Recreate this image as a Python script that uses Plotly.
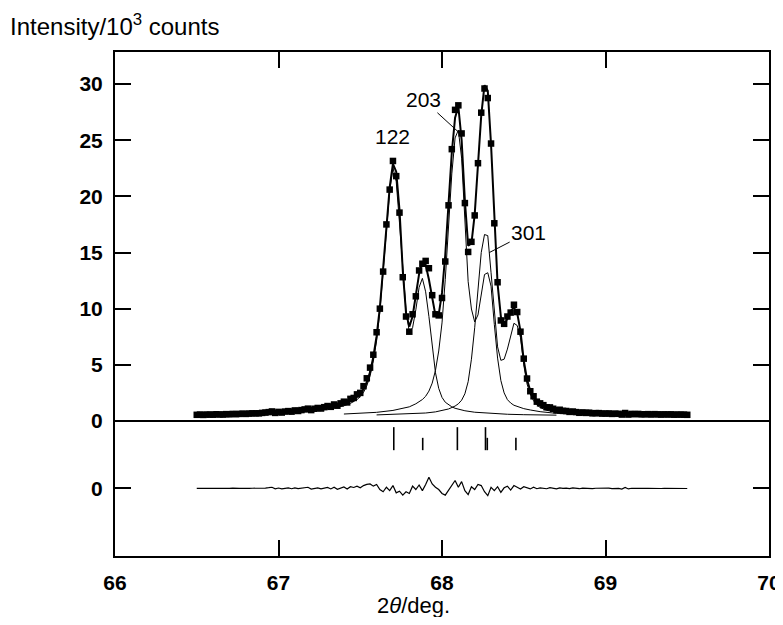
import plotly.graph_objects as go

# ---------------- data ----------------
two_theta = [
    66.50, 66.52, 66.54, 66.56, 66.58, 66.60, 66.62, 66.64, 66.66, 66.68,
    66.70, 66.72, 66.74, 66.76, 66.78, 66.80, 66.82, 66.84, 66.86, 66.88,
    66.90, 66.92, 66.94, 66.96, 66.98, 67.00, 67.02, 67.04, 67.06, 67.08,
    67.10, 67.12, 67.14, 67.16, 67.18, 67.20, 67.22, 67.24, 67.26, 67.28,
    67.30, 67.32, 67.34, 67.36, 67.38, 67.40, 67.42, 67.44, 67.46, 67.48,
    67.50, 67.52, 67.54, 67.56, 67.58, 67.60, 67.62, 67.64, 67.66, 67.68,
    67.70, 67.72, 67.74, 67.76, 67.78, 67.80, 67.82, 67.84, 67.86, 67.88,
    67.90, 67.92, 67.94, 67.96, 67.98, 68.00, 68.02, 68.04, 68.06, 68.08,
    68.10, 68.12, 68.14, 68.16, 68.18, 68.20, 68.22, 68.24, 68.26, 68.28,
    68.30, 68.32, 68.34, 68.36, 68.38, 68.40, 68.42, 68.44, 68.46, 68.48,
    68.50, 68.52, 68.54, 68.56, 68.58, 68.60, 68.62, 68.64, 68.66, 68.68,
    68.70, 68.72, 68.74, 68.76, 68.78, 68.80, 68.82, 68.84, 68.86, 68.88,
    68.90, 68.92, 68.94, 68.96, 68.98, 69.00, 69.02, 69.04, 69.06, 69.08,
    69.10, 69.12, 69.14, 69.16, 69.18, 69.20, 69.22, 69.24, 69.26, 69.28,
    69.30, 69.32, 69.34, 69.36, 69.38, 69.40, 69.42, 69.44, 69.46, 69.48,
    69.50,
]

observed = [
    0.55, 0.57, 0.54, 0.57, 0.57, 0.56, 0.60, 0.58, 0.57, 0.61,
    0.60, 0.63, 0.61, 0.63, 0.65, 0.63, 0.66, 0.68, 0.68, 0.68,
    0.72, 0.75, 0.79, 0.85, 0.72, 0.81, 0.75, 0.84, 0.88, 0.83,
    0.94, 0.89, 0.97, 1.03, 1.10, 0.97, 1.09, 1.16, 1.11, 1.23,
    1.33, 1.26, 1.47, 1.36, 1.57, 1.72, 1.65, 1.97, 2.05, 2.37,
    2.50, 3.10, 3.80, 4.75, 5.90, 7.90, 10.00, 13.30, 17.50, 20.60,
    23.15, 21.80, 18.55, 12.80, 9.30, 7.95, 9.50, 11.10, 13.40, 14.00,
    14.25, 13.60, 11.20, 9.50, 9.40, 10.95, 14.20, 19.20, 24.20, 27.70,
    28.10, 25.60, 19.40, 15.05, 15.95, 18.30, 22.95, 27.45, 29.60, 28.75,
    24.70, 17.60, 12.35, 8.95, 8.65, 9.30, 9.65, 10.35, 9.70, 7.95,
    5.55, 3.78, 2.65, 2.20, 1.72, 1.57, 1.41, 1.22, 1.21, 1.09,
    0.96, 1.00, 0.90, 0.89, 0.81, 0.84, 0.79, 0.73, 0.76, 0.72,
    0.74, 0.68, 0.70, 0.70, 0.66, 0.66, 0.67, 0.63, 0.65, 0.64,
    0.57, 0.71, 0.57, 0.63, 0.61, 0.63, 0.59, 0.60, 0.61, 0.58,
    0.61, 0.59, 0.57, 0.59, 0.58, 0.59, 0.56, 0.57, 0.57, 0.56,
    0.55,
]

calculated = [
    0.55, 0.55, 0.56, 0.56, 0.57, 0.57, 0.58, 0.58, 0.59, 0.60,
    0.60, 0.61, 0.62, 0.63, 0.64, 0.65, 0.66, 0.67, 0.68, 0.69,
    0.70, 0.72, 0.73, 0.75, 0.76, 0.78, 0.80, 0.82, 0.84, 0.86,
    0.89, 0.91, 0.94, 0.97, 1.00, 1.03, 1.07, 1.11, 1.15, 1.20,
    1.25, 1.31, 1.37, 1.44, 1.52, 1.60, 1.70, 1.82, 1.97, 2.17,
    2.45, 2.85, 3.45, 4.35, 5.70, 7.55, 10.10, 13.60, 17.40, 20.80,
    22.90, 22.20, 18.80, 13.40, 9.60, 8.40, 9.30, 11.20, 13.10, 14.20,
    13.90, 12.60, 10.80, 9.40, 9.50, 11.40, 14.80, 19.40, 23.90, 27.00,
    28.00, 25.00, 19.60, 15.60, 15.80, 18.40, 22.60, 27.20, 29.90, 29.40,
    24.60, 17.80, 12.20, 9.30, 8.60, 9.10, 9.80, 10.10, 9.60, 8.00,
    5.40, 3.70, 2.70, 2.10, 1.75, 1.52, 1.37, 1.25, 1.15, 1.07,
    1.00, 0.95, 0.90, 0.86, 0.83, 0.80, 0.78, 0.76, 0.74, 0.72,
    0.71, 0.70, 0.69, 0.68, 0.67, 0.66, 0.65, 0.645, 0.64, 0.635,
    0.63, 0.625, 0.62, 0.615, 0.61, 0.605, 0.60, 0.60, 0.595, 0.59,
    0.59, 0.585, 0.58, 0.58, 0.575, 0.57, 0.57, 0.565, 0.56, 0.56,
    0.555,
]

difference = [
    0.00, 0.02, -0.02, 0.01, 0.00, -0.01, 0.02, 0.00, -0.02, 0.01,
    0.00, 0.02, -0.01, 0.00, 0.01, -0.02, 0.00, 0.01, 0.00, -0.01,
    0.02, 0.03, 0.06, 0.10, -0.04, 0.03, -0.05, 0.02, 0.04, -0.03,
    0.05, -0.02, 0.03, 0.06, 0.10, -0.06, 0.02, 0.05, -0.04, 0.03,
    0.08, -0.05, 0.10, -0.08, 0.05, 0.12, -0.05, 0.15, 0.08, 0.20,
    0.05, 0.25, 0.35, 0.40, 0.20, 0.35, -0.10, -0.30, 0.10, -0.20,
    0.25, -0.40, -0.25, -0.60, -0.30, -0.45, 0.20, -0.10, 0.30, -0.20,
    0.35, 1.00, 0.40, 0.10, -0.10, -0.45, -0.60, -0.20, 0.30, 0.70,
    0.10, 0.60, -0.20, -0.55, 0.15, -0.10, 0.35, 0.25, -0.30, -0.65,
    0.10, -0.20, 0.15, -0.35, 0.05, 0.20, -0.15, 0.25, 0.10, -0.05,
    0.15, 0.08, -0.05, 0.10, -0.03, 0.05, 0.04, -0.03, 0.06, 0.02,
    -0.04, 0.05, 0.00, 0.03, -0.02, 0.04, 0.01, -0.03, 0.02, 0.00,
    0.03, -0.02, 0.01, 0.02, -0.01, 0.00, 0.02, -0.02, 0.01, 0.00,
    -0.06, 0.08, -0.05, 0.01, 0.00, 0.02, -0.01, 0.00, 0.01, -0.01,
    0.02, 0.00, -0.01, 0.01, 0.00, 0.02, -0.01, 0.00, 0.01, 0.00,
    -0.01,
]

# individual reflection profiles (thin lines)
comp122_x = [67.00, 67.10, 67.20, 67.30, 67.36, 67.40, 67.44, 67.48, 67.50, 67.52,
             67.54, 67.56, 67.58, 67.60, 67.62, 67.64, 67.66, 67.68, 67.70, 67.72,
             67.74, 67.76, 67.78, 67.80, 67.82, 67.84, 67.86, 67.88, 67.90, 67.92,
             67.94, 67.96, 67.98, 68.00, 68.02, 68.04, 68.06, 68.08, 68.10, 68.14,
             68.20, 68.30, 68.40, 68.50, 68.60, 68.70]
comp122_y = [0.67, 0.76, 0.88, 1.04, 1.20, 1.35, 1.57, 1.90, 2.17, 2.55,
             3.13, 4.00, 5.33, 7.15, 9.75, 13.25, 17.05, 20.45, 22.55, 21.30,
             17.63, 13.37, 9.90, 7.90, 8.30, 9.90, 11.90, 12.70, 11.50, 9.30,
             6.60, 4.30, 2.90, 2.10, 1.67, 1.43, 1.26, 1.13, 1.04, 0.91,
             0.78, 0.66, 0.60, 0.56, 0.53, 0.52]

comp203_x = [67.40, 67.50, 67.60, 67.70, 67.76, 67.80, 67.84, 67.88, 67.90, 67.92,
             67.94, 67.96, 67.98, 68.00, 68.02, 68.04, 68.06, 68.08, 68.10, 68.12,
             68.14, 68.16, 68.18, 68.20, 68.22, 68.24, 68.26, 68.28, 68.30, 68.32,
             68.34, 68.36, 68.38, 68.40, 68.42, 68.44, 68.46, 68.48, 68.50, 68.54,
             68.60, 68.70, 68.80, 68.90]
comp203_y = [0.62, 0.68, 0.77, 0.94, 1.13, 1.26, 1.53, 1.91, 2.20, 2.66,
             3.37, 4.50, 6.23, 8.73, 12.60, 17.60, 22.00, 25.20, 25.90, 23.40,
             17.40, 12.40, 9.97, 8.82, 9.44, 11.18, 13.04, 13.20, 12.00, 8.60,
             5.60, 3.60, 2.50, 1.90, 1.60, 1.40, 1.30, 1.20, 1.10, 0.98,
             0.83, 0.68, 0.62, 0.58]

comp301_x = [67.60, 67.80, 67.90, 67.96, 68.00, 68.04, 68.08, 68.10, 68.12, 68.14,
             68.16, 68.18, 68.20, 68.22, 68.24, 68.26, 68.28, 68.30, 68.32, 68.34,
             68.36, 68.38, 68.40, 68.42, 68.44, 68.46, 68.48, 68.50, 68.52, 68.54,
             68.56, 68.58, 68.60, 68.64, 68.70, 68.80, 68.90, 69.00]
comp301_y = [0.54, 0.62, 0.71, 0.81, 0.91, 1.07, 1.33, 1.53, 1.85, 2.42,
             3.50, 5.50, 8.30, 11.80, 15.00, 16.60, 16.50, 13.20, 9.60, 6.60,
             5.40, 5.50, 6.40, 7.70, 8.70, 8.50, 7.44, 5.00, 3.30, 2.40,
             1.80, 1.45, 1.20, 0.95, 0.78, 0.68, 0.60, 0.56]

# Bragg reflection positions (Ka1 = long bar, Ka2 = short bar)
reflection_pos = [67.705, 67.882, 68.094, 68.266, 68.277, 68.452]
reflection_is_ka1 = [True, False, True, True, False, False]

peak_labels = ["122", "203", "301"]

x_tick_vals = [66, 67, 68, 69, 70]
y_tick_vals = [-6, 0, 5, 10, 15, 20, 25, 30]
y_tick_text = ["0", "0", "5", "10", "15", "20", "25", "30"]

# ---------------- styling / placement constants ----------------
# the page body adds an 8 px offset, so figure coords = screen coords - 8;
# the figure is kept short enough that the page never needs a scrollbar
OFF = 8
FIG_W, FIG_H = 783 - OFF, 625 - 2 * OFF
PLOT_L, PLOT_R, PLOT_T, PLOT_B = 115 - OFF, 769 - OFF, 52 - OFF, 556 - OFF
Y_MIN, Y_MAX = -12.02, 32.85
DIFF_OFFSET = -6.0
KA1_TOP, KA2_TOP, BAR_BOTTOM = -0.55, -1.5, -2.6
BLACK = "black"
TICK_FONT = dict(family="Liberation Sans, Arial, sans-serif", size=21, color=BLACK, weight="bold")
TEXT_FONT = dict(family="Liberation Sans, Arial, sans-serif", size=24, color=BLACK)
XTITLE_FONT = dict(family="Liberation Sans, Arial, sans-serif", size=22, color=BLACK)
LABEL_FONT = dict(family="Liberation Sans, Arial, sans-serif", size=21, color=BLACK)


def paper_x(screen_px):
    return (screen_px - OFF - PLOT_L) / (PLOT_R - PLOT_L)


def paper_y(screen_py):
    return (PLOT_B - (screen_py - OFF)) / (PLOT_B - PLOT_T)


fig = go.Figure()

for cx, cy in ((comp122_x, comp122_y), (comp203_x, comp203_y), (comp301_x, comp301_y)):
    fig.add_trace(go.Scatter(x=cx, y=cy, mode="lines",
                             line=dict(color=BLACK, width=1), hoverinfo="skip"))

fig.add_trace(go.Scatter(x=two_theta, y=calculated, mode="lines",
                         line=dict(color=BLACK, width=2)))
fig.add_trace(go.Scatter(x=two_theta, y=observed, mode="markers",
                         marker=dict(symbol="square", size=6.5, color=BLACK, line=dict(width=0))))

# difference curve on a shifted overlay axis
fig.add_trace(go.Scatter(x=two_theta, y=difference, mode="lines",
                         line=dict(color=BLACK, width=1.2), yaxis="y2"))

# reflection bars
bx, by = [], []
for p, ka1 in zip(reflection_pos, reflection_is_ka1):
    bx += [p, p, None]
    by += [KA1_TOP if ka1 else KA2_TOP, BAR_BOTTOM, None]
fig.add_trace(go.Scatter(x=bx, y=by, mode="lines", line=dict(color=BLACK, width=1.6)))

fig.update_layout(
    width=FIG_W, height=FIG_H,
    margin=dict(l=PLOT_L, r=FIG_W - PLOT_R, t=PLOT_T, b=FIG_H - PLOT_B, autoexpand=False),
    paper_bgcolor="white", plot_bgcolor="white",
    showlegend=False,
    xaxis=dict(range=[66, 70], tickvals=x_tick_vals, ticks="inside", ticklen=16,
               tickwidth=1.6, tickcolor=BLACK, showline=True, linewidth=2, linecolor=BLACK,
               mirror="ticks", showgrid=False, zeroline=False, tickfont=TICK_FONT,
               ticklabelstandoff=7, automargin=False),
    yaxis=dict(range=[Y_MIN, Y_MAX], tickvals=y_tick_vals, ticktext=y_tick_text,
               ticks="inside", ticklen=16, tickwidth=1.6, tickcolor=BLACK,
               showline=True, linewidth=2, linecolor=BLACK, mirror="ticks",
               showgrid=False, zeroline=True, zerolinecolor=BLACK, zerolinewidth=1.8,
               tickfont=TICK_FONT, ticklabelstandoff=6, automargin=False),
    yaxis2=dict(range=[Y_MIN - DIFF_OFFSET, Y_MAX - DIFF_OFFSET], overlaying="y",
                visible=False, automargin=False),
)

annotations = [
    dict(xref="paper", yref="paper", x=paper_x(8), y=paper_y(25),
         xanchor="left", yanchor="middle", showarrow=False,
         text="Intensity/10<sup>3</sup> counts", font=TEXT_FONT),
    dict(xref="paper", yref="paper", x=paper_x(413.5), y=paper_y(605),
         xanchor="center", yanchor="middle", showarrow=False,
         text="2<i>θ</i>/deg.", font=XTITLE_FONT),
    dict(x=67.70, y=25.3, xref="x", yref="y", showarrow=False,
         text=peak_labels[0], font=LABEL_FONT),
    dict(x=68.11, y=25.6, xref="x", yref="y", ax=67.885, ay=28.6, axref="x", ayref="y",
         showarrow=True, arrowhead=0, arrowwidth=1, arrowcolor=BLACK, standoff=0,
         text=peak_labels[1], font=LABEL_FONT),
    dict(x=68.29, y=15.0, xref="x", yref="y", ax=68.53, ay=16.8, axref="x", ayref="y",
         showarrow=True, arrowhead=0, arrowwidth=1, arrowcolor=BLACK, standoff=0,
         text=peak_labels[2], font=LABEL_FONT),
]
fig.update_layout(annotations=annotations)

fig.write_html("out.html")
